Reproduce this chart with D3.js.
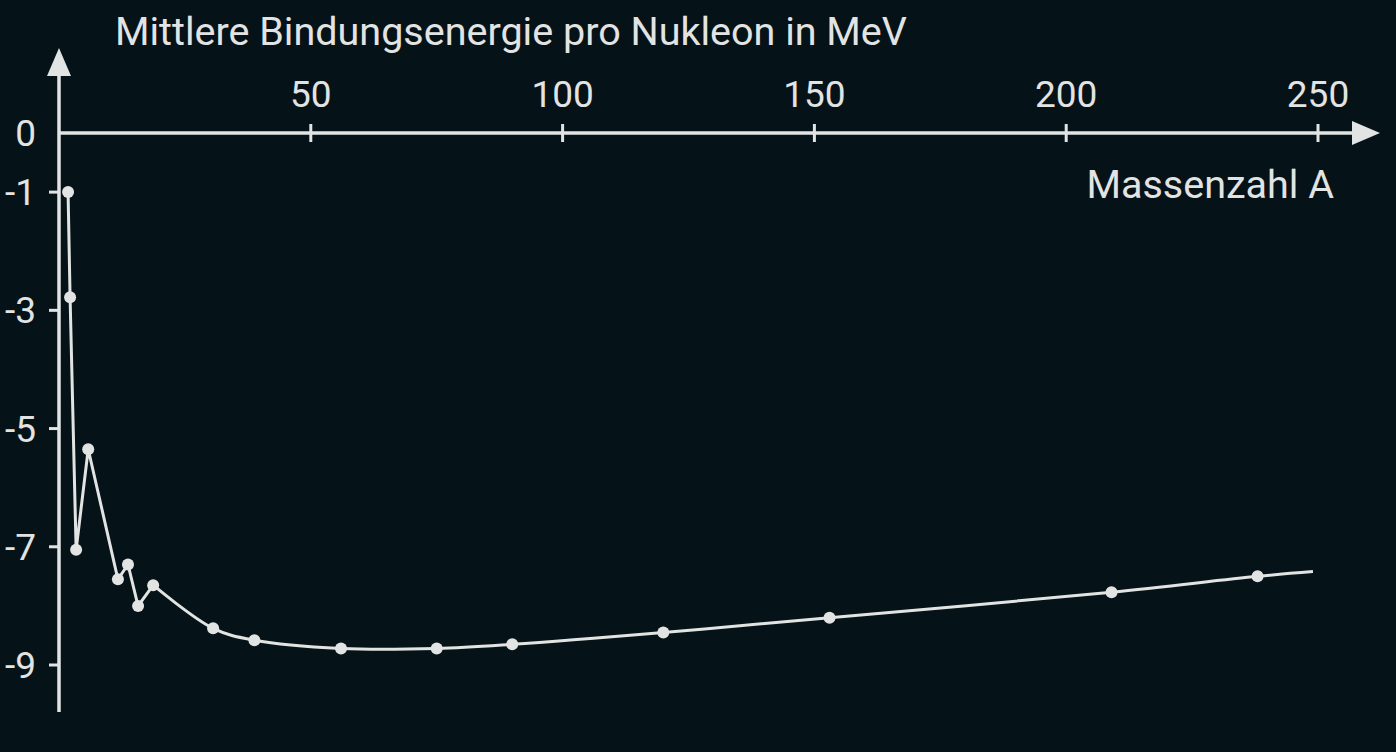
<!DOCTYPE html>
<html lang="de">
<head>
<meta charset="UTF-8">
<title>Bindungsenergie</title>
<script src="https://d3js.org/d3.v7.min.js"></script>
<style>
  body { margin: 0; background: #051217; }
  svg { display: block; font-family: Roboto, sans-serif; }
</style>
</head>
<body>
<svg id="chart"></svg>
<script>
  // Massenzahl A and mean binding energy per nucleon (MeV)
  const massNumbers = [1.8, 2.2, 3.4, 5.8, 11.7, 13.7, 15.7, 18.7, 30.6, 38.8, 56, 75, 90, 120, 153, 209, 238, 249];
  const energies    = [-1.0, -2.78, -7.05, -5.35, -7.55, -7.3, -8.0, -7.65, -8.38, -8.58, -8.72, -8.72, -8.65, -8.45, -8.2, -7.77, -7.5, -7.42];
  const hasDot      = [1, 1, 1, 1, 1, 1, 1, 1, 1, 1, 1, 1, 1, 1, 1, 1, 1, 0];
  const xTicks = [50, 100, 150, 200, 250];
  const yTicks = [0, -1, -3, -5, -7, -9];

  const width = 1396, height = 752;
  const fg = "#e2e4e4";
  const svg = d3.select("#chart").attr("width", width).attr("height", height);

  const x = d3.scaleLinear().domain([0, 250]).range([59, 1318]);
  const y = d3.scaleLinear().domain([0, -9]).range([133, 665]);

  // x axis
  svg.append("line").attr("x1", 59).attr("x2", 1360).attr("y1", y(0)).attr("y2", y(0))
    .attr("stroke", fg).attr("stroke-width", 3.5);
  svg.append("path").attr("d", `M1380,${y(0)} L1352,${y(0) - 12} L1352,${y(0) + 12} Z`).attr("fill", fg);
  svg.selectAll(".xt").data(xTicks).enter().append("line")
    .attr("x1", d => x(d)).attr("x2", d => x(d)).attr("y1", y(0) - 9).attr("y2", y(0) + 9)
    .attr("stroke", fg).attr("stroke-width", 3);
  svg.selectAll(".xl").data(xTicks).enter().append("text")
    .attr("x", d => x(d)).attr("y", 107).attr("text-anchor", "middle")
    .attr("fill", fg).attr("font-size", 37).text(d => d);

  // y axis
  svg.append("line").attr("x1", 59).attr("x2", 59).attr("y1", 70).attr("y2", 712)
    .attr("stroke", fg).attr("stroke-width", 3.5);
  svg.append("path").attr("d", "M59,48 L47,76 L71,76 Z").attr("fill", fg);
  svg.selectAll(".yt").data(yTicks.filter(d => d !== 0)).enter().append("line")
    .attr("x1", 49).attr("x2", 59).attr("y1", d => y(d)).attr("y2", d => y(d))
    .attr("stroke", fg).attr("stroke-width", 3);
  svg.selectAll(".yl").data(yTicks).enter().append("text")
    .attr("x", 36).attr("y", d => y(d) + 13).attr("text-anchor", "end")
    .attr("fill", fg).attr("font-size", 37).text(d => d);

  svg.append("text").attr("x", 115).attr("y", 45).attr("fill", fg).attr("font-size", 39.5)
    .text("Mittlere Bindungsenergie pro Nukleon in MeV");
  svg.append("text").attr("x", 1334).attr("y", 198).attr("text-anchor", "end")
    .attr("fill", fg).attr("font-size", 39.5).text("Massenzahl A");

  // curve: straight for light nuclei, smooth from A≈19 on
  const data = massNumbers.map((a, i) => ({ a, e: energies[i], dot: hasDot[i] }));
  const head = data.slice(0, 8), tail = data.slice(7);
  svg.append("path").datum(head).attr("d", d3.line().x(d => x(d.a)).y(d => y(d.e)))
    .attr("fill", "none").attr("stroke", fg).attr("stroke-width", 3);
  svg.append("path").datum(tail)
    .attr("d", d3.line().x(d => x(d.a)).y(d => y(d.e)).curve(d3.curveCatmullRom))
    .attr("fill", "none").attr("stroke", fg).attr("stroke-width", 3);
  svg.selectAll(".dot").data(data.filter(d => d.dot)).enter().append("circle")
    .attr("cx", d => x(d.a)).attr("cy", d => y(d.e)).attr("r", 6).attr("fill", fg);
</script>
</body>
</html>
